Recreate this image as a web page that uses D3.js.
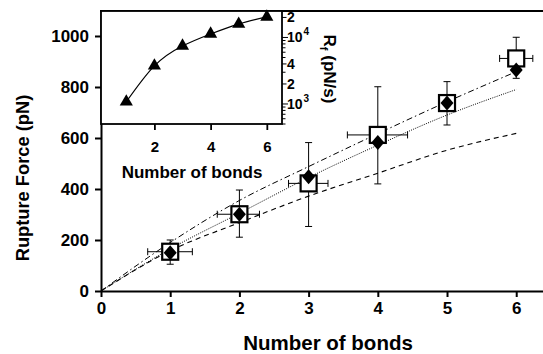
<!DOCTYPE html>
<html>
  <head>
    <meta charset="utf-8">
    <title>Rupture force vs number of bonds</title>
    <script src="https://d3js.org/d3.v7.min.js"></script>
    <style>
      body { margin: 0; background: #fff; }
      svg { display: block; font-family: "Liberation Sans", Arial, sans-serif; font-weight: bold; }
      .axis path, .axis line { stroke: #000; }
      .axis text { font-family: "Liberation Sans", Arial, sans-serif; font-weight: bold; fill: #000; }
    </style>
  </head>
  <body>
    <svg id="chart" width="543" height="354"></svg>
    <script>
      // data
      bonds = [1, 2, 3, 4, 5, 6];
      squareForce = [154, 301, 422, 612, 737, 912];
      diamondForce = [150, 301, 448, 582, 737, 867];
      errLow = [105, 211, 253, 420, 651, 834];
      errHigh = [200, 396, 582, 801, 821, 995];
      errLeft = [0.675, 1.68, 2.71, 3.56, 5, 5.76];
      errRight = [1.32, 2.29, 3.28, 4.43, 5, 6.24];
      // model curves
      curveBonds = [0, 1, 2, 3, 4, 5, 6];
      dashDotForce = [0, 190, 355, 488, 617, 742, 860];
      dottedForce = [0, 165, 305, 445, 572, 690, 790];
      dashedForce = [0, 158, 268, 372, 462, 552, 618];
      // inset: loading rate
      rateBonds = [1, 2, 3, 4, 5, 6];
      rate = [1080, 3750, 7450, 11300, 15900, 20400];
      xTicks = [0, 1, 2, 3, 4, 5, 6];
      yTicks = [0, 200, 400, 600, 800, 1000];
      insetXTicks = [2, 4, 6];
      insetYTicks = [
        { v: 1000, label: "10", sup: "3" },
        { v: 2000, label: "2" },
        { v: 4000, label: "4" },
        { v: 10000, label: "10", sup: "4" },
        { v: 20000, label: "2" }
      ];

      svg = d3.select("#chart");

      // main scales
      x = d3.scaleLinear().domain([0, 6.387]).range([101, 543]);
      y = d3.scaleLinear().domain([0, 1098]).range([291, 11]);

      // model lines
      line = d3.line()
        .x(function(d) { return x(d[0]); })
        .y(function(d) { return y(d[1]); })
        .curve(d3.curveMonotoneX);
      lines = [
        { data: dashDotForce, dash: "6,3,1.5,3", width: 1 },
        { data: dottedForce, dash: "1,1.3", width: 1 },
        { data: dashedForce, dash: "5,4", width: 1.1 }
      ];
      lines.forEach(function(l) {
        svg.append("path")
          .datum(curveBonds.map(function(b, i) { return [b, l.data[i]]; }))
          .attr("fill", "none")
          .attr("stroke", "#000")
          .attr("stroke-width", l.width)
          .attr("stroke-dasharray", l.dash)
          .attr("d", line);
      });

      // error bars
      errs = svg.append("g").attr("stroke", "#000").attr("stroke-width", 1);
      bonds.forEach(function(b, i) {
        errs.append("line")
          .attr("x1", x(b)).attr("x2", x(b))
          .attr("y1", y(errLow[i])).attr("y2", y(errHigh[i]));
        [errLow[i], errHigh[i]].forEach(function(v) {
          errs.append("line")
            .attr("x1", x(b) - 3.5).attr("x2", x(b) + 3.5)
            .attr("y1", y(v)).attr("y2", y(v));
        });
        if (errRight[i] > errLeft[i]) {
          errs.append("line")
            .attr("x1", x(errLeft[i])).attr("x2", x(errRight[i]))
            .attr("y1", y(squareForce[i])).attr("y2", y(squareForce[i]));
          [errLeft[i], errRight[i]].forEach(function(v) {
            errs.append("line")
              .attr("x1", x(v)).attr("x2", x(v))
              .attr("y1", y(squareForce[i]) - 3.5).attr("y2", y(squareForce[i]) + 3.5);
          });
        }
      });

      // open squares
      svg.append("g").selectAll("rect")
        .data(bonds)
        .join("rect")
          .attr("x", function(d) { return x(d) - 8; })
          .attr("y", function(d, i) { return y(squareForce[i]) - 8; })
          .attr("width", 16)
          .attr("height", 16)
          .attr("fill", "#fff")
          .attr("stroke", "#000")
          .attr("stroke-width", 2.2);

      // filled diamonds
      svg.append("g").selectAll("path")
        .data(bonds)
        .join("path")
          .attr("d", "M0,-7.5L6.5,0L0,7.5L-6.5,0Z")
          .attr("transform", function(d, i) { return "translate(" + x(d) + "," + y(diamondForce[i]) + ")"; })
          .attr("fill", "#000");

      // main axes
      xAxis = svg.append("g")
        .attr("class", "axis")
        .attr("transform", "translate(0,291)")
        .call(d3.axisBottom(x).tickValues(xTicks).tickFormat(d3.format("d"))
          .tickSize(6).tickPadding(5).tickSizeOuter(0));
      xAxis.select(".domain").attr("stroke-width", 2);
      xAxis.selectAll(".tick line").attr("stroke-width", 2);
      xAxis.selectAll("text").attr("font-size", 17);

      yAxis = svg.append("g")
        .attr("class", "axis")
        .attr("transform", "translate(101,0)")
        .call(d3.axisLeft(y).tickValues(yTicks).tickFormat(d3.format("d"))
          .tickSize(6).tickPadding(6).tickSizeOuter(0));
      yAxis.select(".domain").attr("stroke-width", 2);
      yAxis.selectAll(".tick line").attr("stroke-width", 2);
      yAxis.selectAll("text").attr("font-size", 17);

      svg.append("line")
        .attr("x1", 100).attr("x2", 543)
        .attr("y1", 11).attr("y2", 11)
        .attr("stroke", "#000").attr("stroke-width", 2);

      svg.append("text")
        .attr("x", 328).attr("y", 350)
        .attr("text-anchor", "middle")
        .attr("font-size", 20.5)
        .text("Number of bonds");

      svg.append("text")
        .attr("transform", "translate(29,178) rotate(-90)")
        .attr("text-anchor", "middle")
        .attr("font-size", 18.3)
        .text("Rupture Force (pN)");

      // inset
      ix = d3.scaleLinear().domain([0.1, 6.54]).range([101, 282]);
      iy = d3.scaleLog().domain([500, 25000]).range([124, 11]);

      inset = svg.append("g");
      inset.append("rect")
        .attr("x", 101).attr("y", 11)
        .attr("width", 181).attr("height", 113)
        .attr("fill", "#fff")
        .attr("stroke", "#000")
        .attr("stroke-width", 1.8);

      inset.append("path")
        .datum(rateBonds.map(function(b, i) { return [b, rate[i]]; }))
        .attr("fill", "none")
        .attr("stroke", "#000")
        .attr("stroke-width", 1.2)
        .attr("d", d3.line()
          .x(function(d) { return ix(d[0]); })
          .y(function(d) { return iy(d[1]); })
          .curve(d3.curveNatural));

      inset.append("g").selectAll("path")
        .data(rateBonds)
        .join("path")
          .attr("d", d3.symbol().type(d3.symbolTriangle).size(75))
          .attr("transform", function(d, i) { return "translate(" + ix(d) + "," + iy(rate[i]) + ")"; })
          .attr("fill", "#000");

      ixAxis = inset.append("g")
        .attr("class", "axis")
        .attr("transform", "translate(0,124)")
        .call(d3.axisBottom(ix).tickValues(insetXTicks).tickFormat(d3.format("d"))
          .tickSize(6).tickPadding(11).tickSizeOuter(0));
      ixAxis.select(".domain").remove();
      ixAxis.selectAll(".tick line").attr("stroke-width", 1.8);
      ixAxis.selectAll("text").attr("font-size", 15);

      inset.append("text")
        .attr("x", 192).attr("y", 178)
        .attr("text-anchor", "middle")
        .attr("font-size", 17)
        .text("Number of bonds");

      // log ticks on the right of the inset
      minor = [];
      [100, 1000, 10000].forEach(function(dec) {
        for (k = 1; k < 10; k++) {
          v = dec * k;
          if (v >= 500 && v <= 25000) minor.push(v);
        }
      });
      inset.append("g").selectAll("line")
        .data(minor)
        .join("line")
          .attr("x1", 282)
          .attr("x2", function(d) {
            if (d === 1000 || d === 10000) return 288;
            if (d === 2000 || d === 4000 || d === 20000) return 286.5;
            return 285.5;
          })
          .attr("y1", function(d) { return iy(d); })
          .attr("y2", function(d) { return iy(d); })
          .attr("stroke", "#000")
          .attr("stroke-width", 1);

      iyLabels = inset.append("g").selectAll("text")
        .data(insetYTicks)
        .join("text")
          .attr("x", 287)
          .attr("y", function(d) { return iy(d.v) + 5; })
          .attr("font-size", 14);
      iyLabels.append("tspan").text(function(d) { return d.label; });
      iyLabels.filter(function(d) { return d.sup; })
        .append("tspan")
          .attr("dx", 1)
          .attr("dy", -7)
          .attr("font-size", 10)
          .text(function(d) { return d.sup; });

      rLabel = inset.append("text")
        .attr("transform", "translate(324,69) rotate(90)")
        .attr("text-anchor", "middle")
        .attr("font-size", 17);
      rLabel.append("tspan").text("R");
      rLabel.append("tspan").attr("dy", 4).attr("font-size", 11).text("f");
      rLabel.append("tspan").attr("dy", -4).text(" (pN/s)");
    </script>
  </body>
</html>
